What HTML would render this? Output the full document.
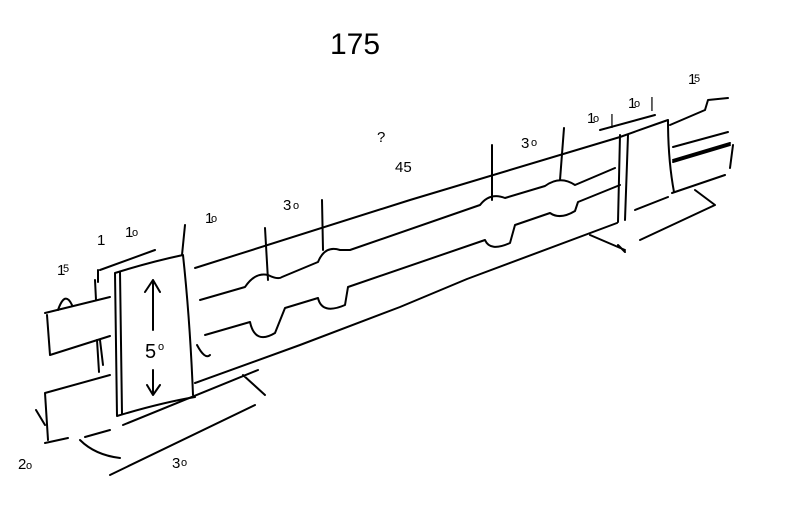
<!DOCTYPE html>
<html><head><style>body{margin:0;background:#fff}svg{display:block}</style></head><body>
<svg width="785" height="513" viewBox="0 0 785 513" xmlns="http://www.w3.org/2000/svg" fill="none" stroke="#000" stroke-width="2" stroke-linecap="round" stroke-linejoin="round" font-family="Liberation Sans, sans-serif">
<!-- title -->
<text x="330" y="54" font-size="30" fill="#000" stroke="none">175</text>
<!-- left plate -->
<path d="M115 273 L117 416 M120 272 L122 414 M115 273 Q150 262 183 255 M183 255 Q190 320 193 395 M117 416 Q160 403 195 397"/>
<path d="M100 270 L155 250 M98 270 L98 282"/>
<!-- left upper rail -->
<path d="M45 313 L110 297 M47 315 L50 355 M50 355 L110 336 M95 280 L96 300 M100 340 L103 365"/>
<path d="M58 310 Q65 290 72 305"/>
<!-- left lower rail -->
<path d="M45 393 L110 375 M45 393 L48 440 M36 410 L45 425 M45 443 L68 438 M97 340 L99 372"/>
<!-- left base -->
<path d="M110 430 L85 437 M123 425 L258 370 M243 375 L265 395 M110 475 L255 405 M80 440 Q95 455 120 458"/>
<!-- upper rail right of left plate -->
<path d="M195 268 L410 200 L620 137"/>
<path d="M200 300 L245 287 Q255 272 268 275 Q278 280 282 277 L318 262 Q325 245 340 250 L350 250 L480 205 Q490 192 505 198 L545 186 Q560 175 575 185 L615 168"/>
<!-- lower rail -->
<path d="M205 335 L250 322 Q255 345 275 333 L285 308 L318 298 Q322 315 345 305 L348 287 L485 240 Q490 252 510 243 L515 225 L550 213 Q560 220 575 211 L578 202 L620 185"/>
<path d="M195 383 L300 345 L400 307 L467 279 L617 223"/>
<path d="M197 345 Q205 360 210 355"/>
<!-- vertical leader lines -->
<path d="M185 225 L182 255 M265 228 L268 280 M322 200 L323 250 M492 145 L492 200 M564 128 L560 180"/>
<!-- right plate -->
<path d="M620 135 L618 222 M628 135 L625 220 M620 137 Q645 128 668 120 M668 120 Q668 160 674 192 M635 210 L668 197"/>
<path d="M600 130 L655 115"/>
<!-- right base -->
<path d="M695 190 L715 205 L640 240 M590 235 L625 250 M625 252 L618 245"/>
<!-- right rails -->
<path d="M670 125 L705 110 M705 110 L708 100 L728 98 M673 147 L728 132 M673 160 L730 143 M673 162 L730 145 M672 193 L725 175 M733 145 L730 168"/>
<!-- arrows in plate -->
<path d="M153 280 L153 330 M145 292 L153 280 L160 292 M153 370 L153 395 M147 385 L153 395 L160 385"/>
<g fill="#000" stroke="none" font-size="15">
<text x="145" y="358" font-size="20">5</text><text x="158" y="350" font-size="11">o</text>
<text x="57" y="275">1</text><text x="63" y="272" font-size="11">5</text>
<text x="97" y="245">1</text>
<text x="125" y="237">1</text><text x="132" y="236" font-size="11">o</text>
<text x="205" y="223">1</text><text x="211" y="222" font-size="11">o</text>
<text x="283" y="210">3</text><text x="293" y="209" font-size="11">o</text>
<text x="377" y="142">?</text>
<text x="395" y="172">45</text>
<text x="521" y="148">3</text><text x="531" y="146" font-size="11">o</text>
<text x="587" y="123">1</text><text x="593" y="122" font-size="11">o</text><text x="610" y="125">|</text>
<text x="628" y="108">1</text><text x="634" y="107" font-size="11">o</text><text x="650" y="108">|</text>
<text x="688" y="84">1</text><text x="694" y="82" font-size="11">5</text>
<text x="18" y="469">2</text><text x="26" y="469" font-size="11">o</text>
<text x="172" y="468">3</text><text x="181" y="466" font-size="11">o</text>
</g>
</svg>
</body></html>
